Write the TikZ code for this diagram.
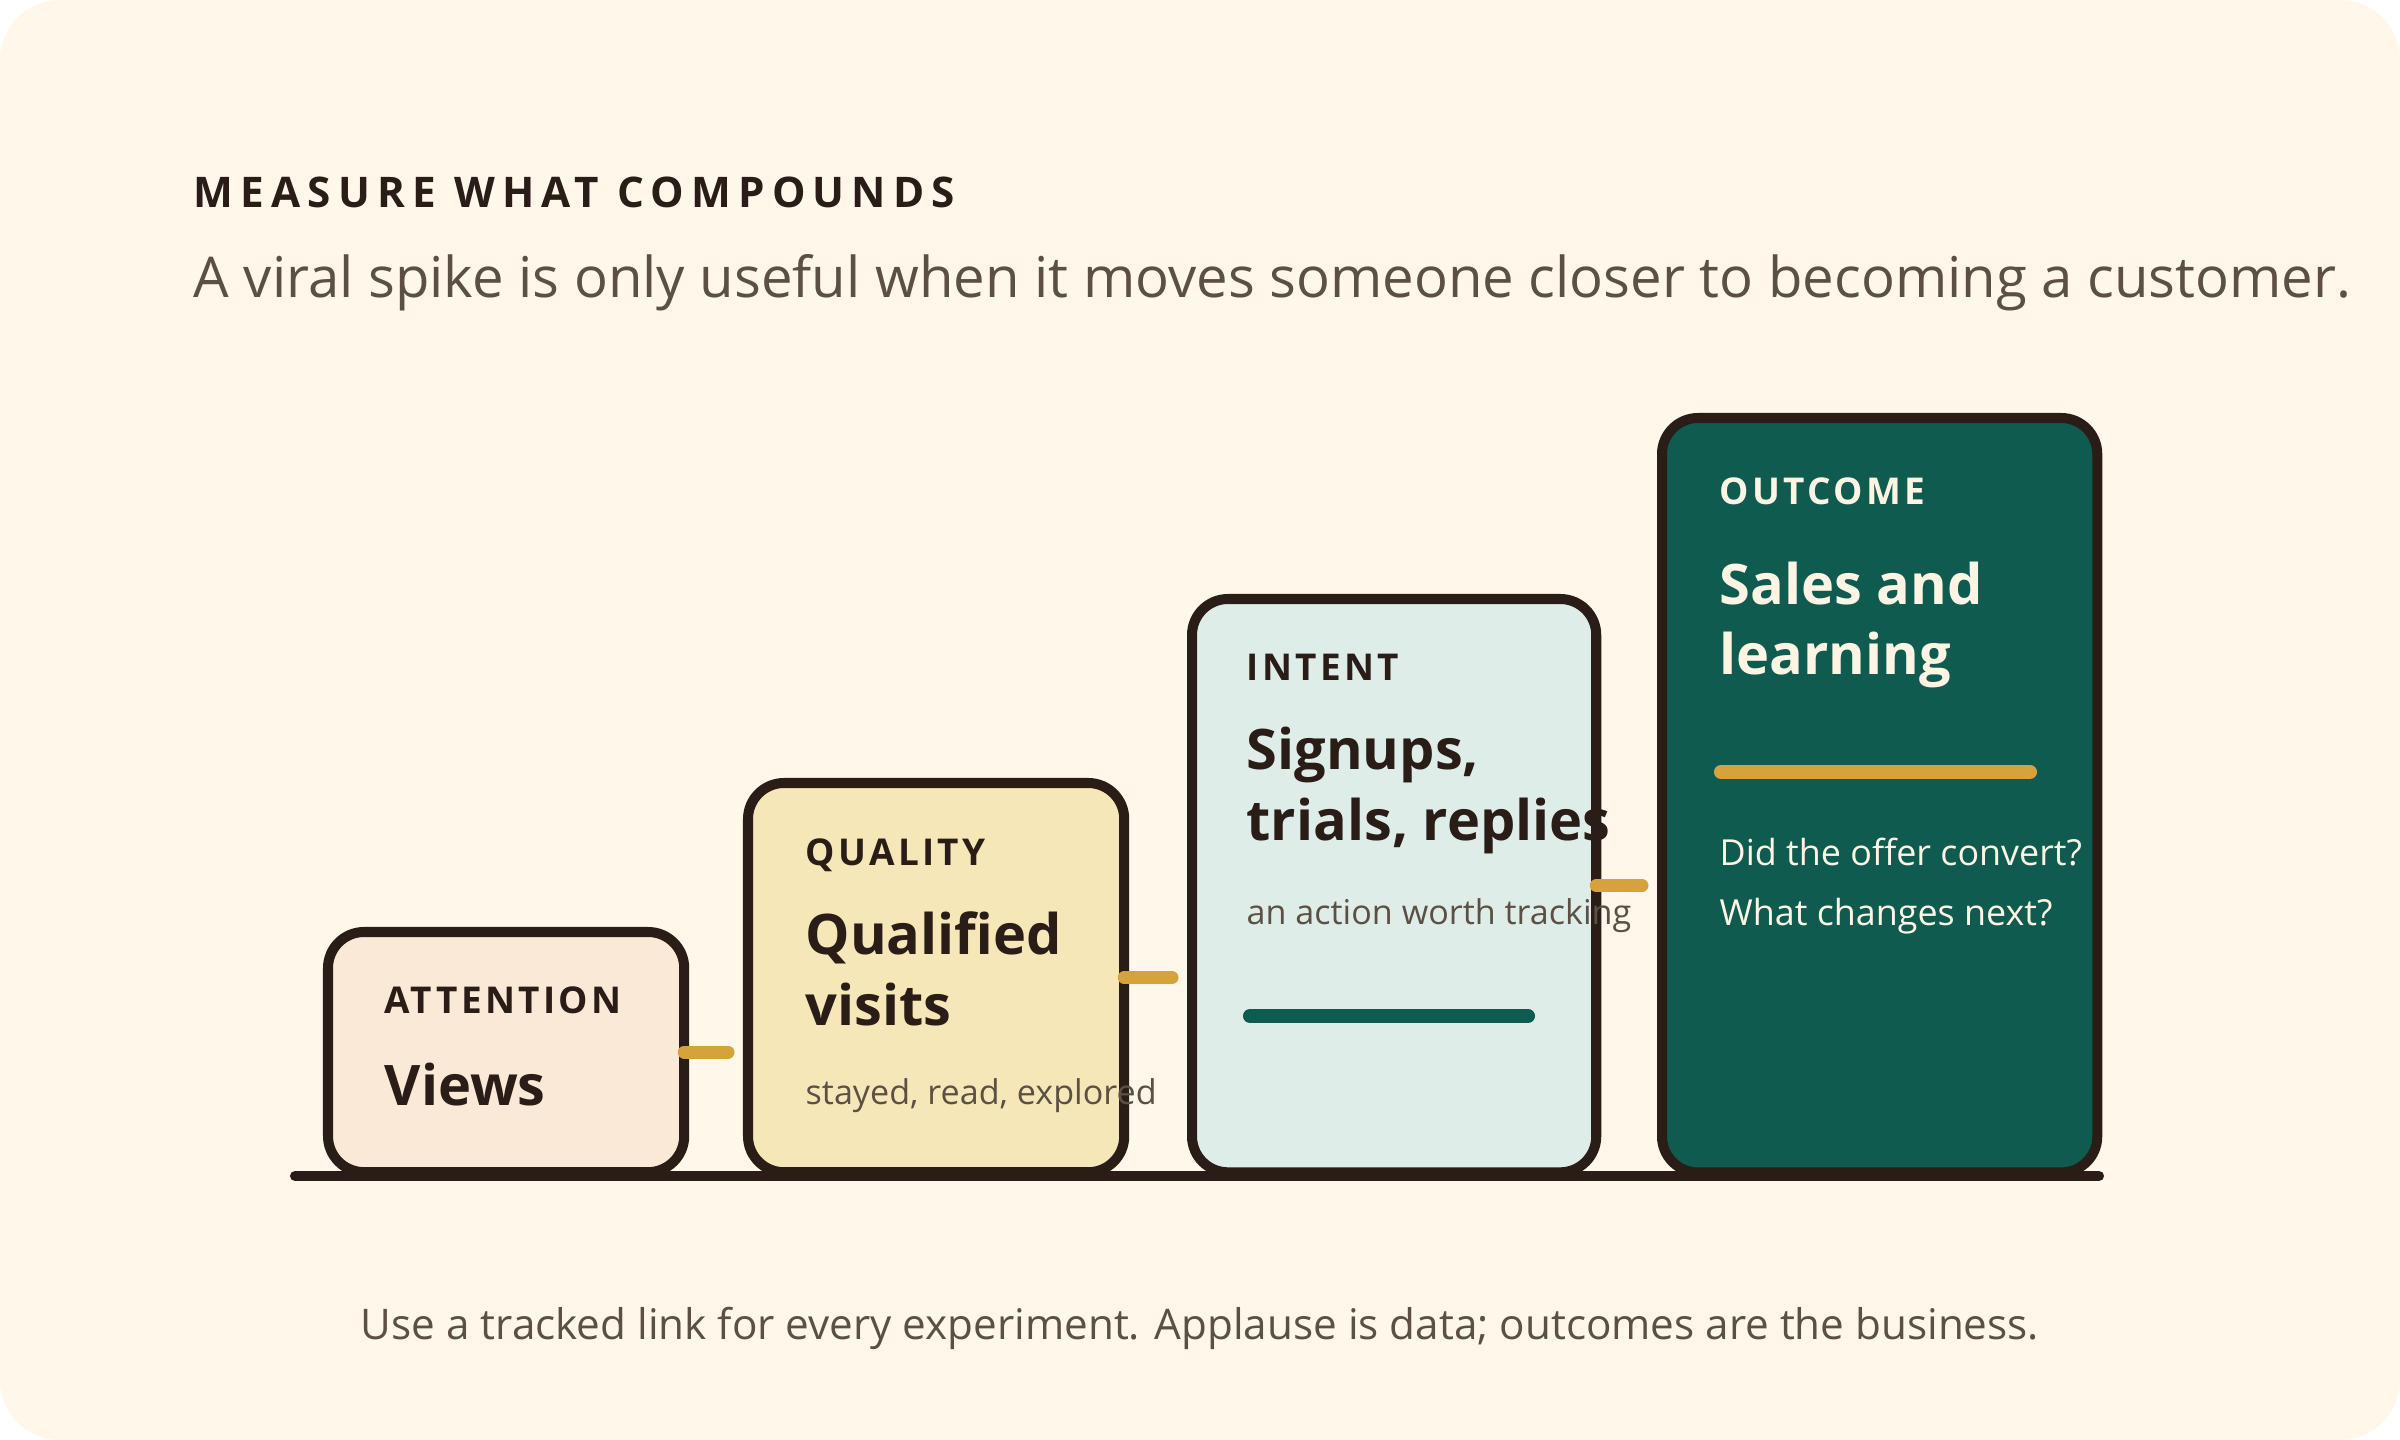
\documentclass[tikz,border=0pt]{standalone}
\usepackage{fontspec}
\setmainfont{Open Sans}
\usetikzlibrary{positioning,calc}
\definecolor{Paper}{HTML}{FEF7EA}
\definecolor{Ink}{HTML}{2A1D17}
\definecolor{Muted}{HTML}{5C5045}
\definecolor{Gold}{HTML}{D6A23E}
\definecolor{Teal}{HTML}{0F5B4F}
\definecolor{Peach}{HTML}{FAE9D6}
\definecolor{Butter}{HTML}{F6E7B8}
\definecolor{Mist}{HTML}{DFEDE9}
\definecolor{Cream}{HTML}{FDF4E3}

\begin{document}
\begin{tikzpicture}[x=0.01cm,y=-0.01cm,
    card/.style={draw=Ink,line width=2.85pt,rounded corners=0.36cm,
                 inner sep=0pt,outer sep=0pt,anchor=north west},
    kicker/.style={font=\fontsize{10.5}{12}\selectfont\bfseries\addfontfeature{LetterSpace=9},
                   text=Ink,anchor=base west,inner sep=0pt},
    head/.style={font=\fontsize{15.9}{20}\selectfont\bfseries,text=Ink,
                 anchor=base west,align=left,inner sep=0pt},
    note/.style={font=\fontsize{9.7}{12}\selectfont,text=Muted,anchor=base west,inner sep=0pt},
    link/.style={Gold,line width=3.7pt,line cap=round,shorten >=0.2cm},
    bar/.style={line width=4pt,line cap=round}
  ]
  \fill[white] (0,0) rectangle (2400,1440);
  \useasboundingbox (0,0) rectangle (2400,1440);
  \fill[Paper,rounded corners=0.6cm] (0,0) rectangle (2400,1440);

  % heading
  \node[anchor=base west,inner sep=0pt,text=Ink,
        font=\fontsize{12}{14}\selectfont\bfseries\addfontfeature{LetterSpace=17}]
    (title) at (193,208) {MEASURE WHAT COMPOUNDS};
  \node[anchor=base west,inner sep=0pt,text=Muted,font=\fontsize{16}{20}\selectfont]
    (lede) at (193,298) {A viral spike is only useful when it moves someone closer to becoming a customer.};

  % the four steps
  \node[card,fill=Peach,minimum width=3.56cm,minimum height=2.40cm] (attn) at (328,932) {};
  \node[card,fill=Butter,minimum width=3.76cm,minimum height=3.89cm] (qual) at (748,783) {};
  \node[card,fill=Mist,minimum width=4.04cm,minimum height=5.73cm] (intent) at (1192,599) {};
  \node[card,fill=Teal,minimum width=4.35cm,minimum height=7.54cm] (outcome) at (1662,418) {};

  \node[kicker] (attnK) at (384,1013) {ATTENTION};
  \node[head] (attnH) at (384,1105) {Views};

  \node[kicker] (qualK) at (805,865) {QUALITY};
  \node[head] (qualH) at (805,1025) {Qualified\\visits};
  \node[note] (qualN) at (805,1104) {stayed, read, explored};

  \node[kicker] (intentK) at (1246,681) {INTENT};
  \node[head] (intentH) at (1246,840) {Signups,\\trials, replies};
  \node[note] (intentN) at (1246,924) {an action worth tracking};
  \draw[bar,Teal] (1250,1016) -- (1528,1016);

  \node[kicker,text=Cream] (outcomeK) at (1719,505) {OUTCOME};
  \node[head,text=Cream] (outcomeH) at (1719,675) {Sales and\\learning};
  \draw[bar,Gold] (1721,772) -- (2030,772);
  \node[note,text=Cream,font=\fontsize{10.2}{12}\selectfont] (outcomeN1) at (1719,865) {Did the offer convert?};
  \node[note,text=Cream,font=\fontsize{10.2}{12}\selectfont] (outcomeN2) at (1719,925) {What changes next?};

  % ground line and links
  \draw[Ink,line width=2.85pt,line cap=round] (295,1176) -- (2099,1176);
  \draw[link] (attn.east) -- (attn.east -| qual.west);
  \draw[link] (qual.east) -- (qual.east -| intent.west);
  \draw[link] (intent.east) -- (intent.east -| outcome.west);

  \node[anchor=base,inner sep=0pt,text=Muted,font=\fontsize{12}{14}\selectfont]
    (foot) at (1200,1339) {Use a tracked link for every experiment. Applause is data; outcomes are the business.};
\end{tikzpicture}
\end{document}
